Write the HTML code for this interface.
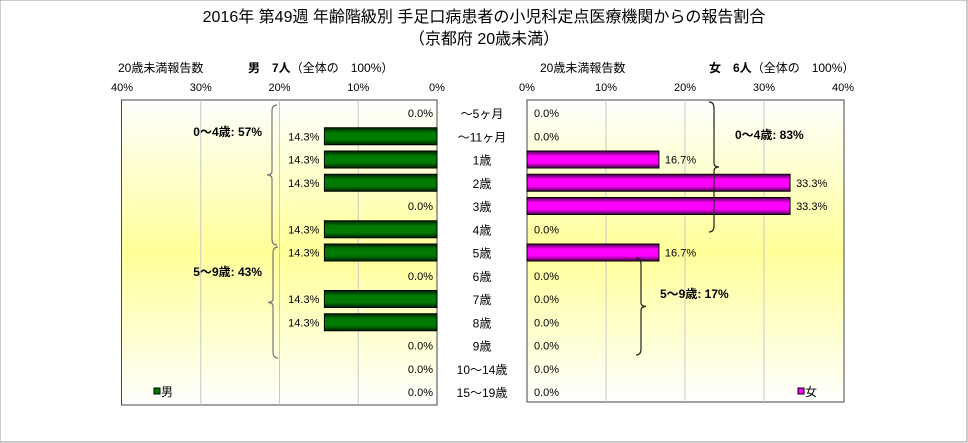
<!DOCTYPE html>
<html><head><meta charset="utf-8"><style>
body{margin:0;background:#fff;}
svg{display:block;font-family:"Liberation Sans","Noto Sans CJK JP",sans-serif;}
</style></head><body>
<svg id="c" width="968" height="443" viewBox="0 0 968 443">
<defs>
<linearGradient id="bg" x1="0" y1="0" x2="0" y2="1">
<stop offset="0" stop-color="#ffffff"/><stop offset="0.5" stop-color="#ffff99"/><stop offset="1" stop-color="#ffffff"/>
</linearGradient>
<linearGradient id="gm" x1="0" y1="0" x2="0" y2="1">
<stop offset="0" stop-color="#002200"/><stop offset="0.3" stop-color="#007a00"/><stop offset="0.7" stop-color="#007a00"/><stop offset="1" stop-color="#002200"/>
</linearGradient>
<linearGradient id="gf" x1="0" y1="0" x2="0" y2="1">
<stop offset="0" stop-color="#440044"/><stop offset="0.3" stop-color="#ff00ff"/><stop offset="0.7" stop-color="#ff00ff"/><stop offset="1" stop-color="#440044"/>
</linearGradient>
</defs>
<rect x="0" y="0" width="967" height="442" fill="#fff" stroke="#999"/>
<text x="484" y="22" text-anchor="middle" font-size="16">2016年 第49週 年齢階級別 手足口病患者の小児科定点医療機関からの報告割合</text>
<text x="484" y="44" text-anchor="middle" font-size="16">（京都府 20歳未満）</text>
<text x="118" y="72" font-size="12">20歳未満報告数</text>
<text x="248" y="72" font-size="12"><tspan font-weight="bold">男　7人</tspan>（全体の　100%）</text>
<text x="540" y="72" font-size="12">20歳未満報告数</text>
<text x="709" y="72" font-size="12"><tspan font-weight="bold">女　6人</tspan>（全体の　100%）</text>
<g id="plots"></g>
</svg>
<script>
const categories=["～5ヶ月","～11ヶ月","1歳","2歳","3歳","4歳","5歳","6歳","7歳","8歳","9歳","10～14歳","15～19歳"];
const maleValues=[0,14.3,14.3,14.3,0,14.3,14.3,0,14.3,14.3,0,0,0];
const femaleValues=[0,0,16.7,33.3,33.3,0,16.7,0,0,0,0,0,0];
const ticks=[0,10,20,30,40];
const NS="http://www.w3.org/2000/svg";
const g=document.getElementById('plots');
function mk(tag,attrs,txt){const e=document.createElementNS(NS,tag);for(const k in attrs)e.setAttribute(k,attrs[k]);if(txt!==undefined)e.textContent=txt;g.appendChild(e);return e;}
const plotTop=100,plotBottom=405;
const yC=i=>113+i*23.25;
const xM=v=>437-v*7.875;
const xF=v=>527+v*7.9;
let r=mk('rect',{x:121.5,y:plotTop,width:315.5,height:plotBottom-plotTop,fill:'url(#bg)',stroke:'#444'});


r=mk('rect',{x:527,y:plotTop,width:317,height:plotBottom-plotTop-3,fill:'url(#bg)',stroke:'#444'});


ticks.forEach(t=>{
  if(t>0&&t<40){
    let l=mk('line',{x1:xM(t),x2:xM(t),y1:plotTop,y2:plotBottom,stroke:'#c8c8c8'});
    
    
    l=mk('line',{x1:xF(t),x2:xF(t),y1:plotTop,y2:plotBottom-3,stroke:'#c8c8c8'});
    
    
  }
  let tx=mk('text',{x:xM(t),y:91,'font-size':11,'text-anchor':'middle'},t+'%');
  
  
  tx=mk('text',{x:xF(t),y:91,'font-size':11,'text-anchor':'middle'},t+'%');
  
  
});
categories.forEach((c,i)=>{
  const y=yC(i);
  let t=mk('text',{x:482,y:y+5,'font-size':12,'text-anchor':'middle'},c);
  
  
  const m=maleValues[i];
  if(m>0){
    let b=mk('rect',{x:xM(m),y:y-8.5,width:437-xM(m),height:17,fill:'url(#gm)',stroke:'#000'});
    
    
    t=mk('text',{x:xM(m)-5,y:y+4,'font-size':11,'text-anchor':'end'},m.toFixed(1)+'%');
  } else {
    t=mk('text',{x:433,y:y+4,'font-size':11,'text-anchor':'end'},m.toFixed(1)+'%');
  }
  
  
  const f=femaleValues[i];
  if(f>0){
    let b=mk('rect',{x:527,y:y-8.5,width:xF(f)-527,height:17,fill:'url(#gf)',stroke:'#000'});
    
    
    t=mk('text',{x:xF(f)+6,y:y+4,'font-size':11},f.toFixed(1)+'%');
  } else {
    t=mk('text',{x:534,y:y+4,'font-size':11},f.toFixed(1)+'%');
  }
  
  
});
function brace(x,y1,y2,dir,name){
  const ym=(y1+y2)/2,d=dir*5;
  let p=mk('path',{d:`M${x+d} ${y1} Q${x} ${y1} ${x} ${y1+6} L${x} ${ym-4} Q${x} ${ym} ${x-d} ${ym} Q${x} ${ym} ${x} ${ym+4} L${x} ${y2-6} Q${x} ${y2} ${x+d} ${y2}`,fill:'none',stroke:dir>0?'#777':'#222','stroke-width':1.2});
  
  
}
brace(272,105,245,1,'male-0-4-brace');
brace(273,247,358,1,'male-5-9-brace');
brace(714,102,232,-1,'female-0-4-brace');
brace(641,258,355,-1,'female-5-9-brace');
let t=mk('text',{x:262,y:136,'font-size':12,'font-weight':'bold','text-anchor':'end'},'0～4歳: 57%');


t=mk('text',{x:262,y:276,'font-size':12,'font-weight':'bold','text-anchor':'end'},'5～9歳: 43%');


t=mk('text',{x:735,y:139,'font-size':12,'font-weight':'bold'},'0～4歳: 83%');


t=mk('text',{x:660,y:298,'font-size':12,'font-weight':'bold'},'5～9歳: 17%');


let lg=mk('rect',{x:154,y:388,width:6,height:6,fill:'#007a00',stroke:'#000'});


t=mk('text',{x:161,y:396,'font-size':12},'男');


lg=mk('rect',{x:798,y:388,width:6,height:6,fill:'#ff00ff',stroke:'#000'});


t=mk('text',{x:805,y:396,'font-size':12},'女');


</script>
</body></html>
